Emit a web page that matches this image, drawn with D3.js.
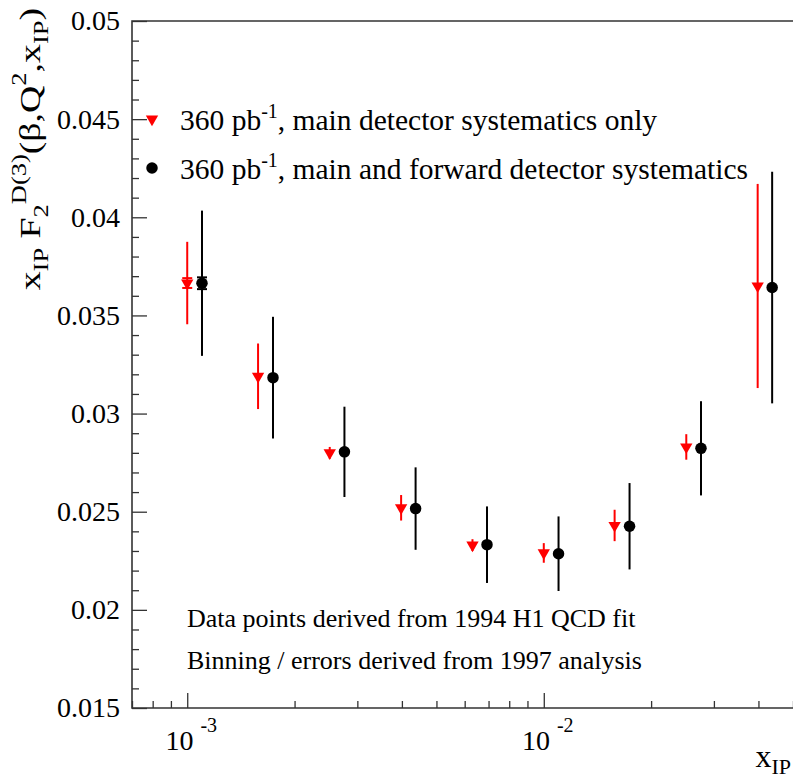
<!DOCTYPE html>
<html lang="en">
<head>
  <meta charset="utf-8">
  <title>xIP F2D(3)</title>
  <script src="https://cdn.jsdelivr.net/npm/d3@7"></script>
  <style>
    body {
      margin: 0;
      background: white;
    }
    text {
      font-family: "Liberation Serif", "Times New Roman", serif;
      fill: black;
    }
  </style>
</head>
<body>
  <svg id="svg" width="793" height="780"></svg>

  <script>
    // main detector systematics only (red down-triangles)
    var xRed = [0.001, 0.00158, 0.00251, 0.00398, 0.00631, 0.01, 0.0158, 0.0251, 0.0398];
    var yRed = [0.03665, 0.0319, 0.0280, 0.0252, 0.0233, 0.0229, 0.0243, 0.0283, 0.0365];
    var errRed = [0.0021, 0.00167, 0.0003, 0.00065, 0.0003, 0.0005, 0.0008, 0.00065, 0.0052];
    var statRed = [0.00025, 0, 0, 0, 0, 0, 0, 0, 0];

    // main and forward detector systematics (black circles)
    var xBlack = [0.0011, 0.00174, 0.00276, 0.00437, 0.00693, 0.011, 0.0174, 0.0276, 0.0437];
    var yBlack = [0.03664, 0.03183, 0.02805, 0.02516, 0.02332, 0.02286, 0.02426, 0.02823, 0.03642];
    var errBlack = [0.0037, 0.0031, 0.0023, 0.0021, 0.00195, 0.0019, 0.0022, 0.0024, 0.0059];
    var statBlack = [0.0003, 0, 0, 0, 0, 0, 0, 0, 0];

    var yMajor = [0.015, 0.02, 0.025, 0.03, 0.035, 0.04, 0.045, 0.05];
    var xMajor = [0.001, 0.01];
    var xMajorLabels = ["-3", "-2"];
    var legendLabels = [", main detector systematics only", ", main and forward detector systematics"];
    var notes = ["Data points derived from 1994 H1 QCD fit", "Binning / errors derived from 1997 analysis"];

    var svg = d3.select("#svg");
    // plot frame (note: "top" is reserved on window, so use frame_* names)
    var frame_l = 132, frame_r = 793, frame_t = 21, frame_b = 708;

    var x = d3.scaleLog().domain([7e-4, 0.05]).range([frame_l, frame_r]);
    var y = d3.scaleLinear().domain([0.015, 0.05]).range([frame_b, frame_t]);

    // minor ticks
    var yMinor = d3.range(15, 50).map(function(d){ return d / 1000; })
      .filter(function(d){ return Math.round(d * 1000) % 5 != 0; });
    var xMinor = x.ticks().filter(function(d){
      return xMajor.every(function(m){ return Math.abs(d - m) / m > 1e-6; });
    });

    var frameColor = "#333";

    // y axis
    var yAxis = svg.append("g")
      .attr("transform", "translate(" + frame_l + ",0)")
      .call(d3.axisLeft(y).tickValues(yMajor).tickSize(-15).tickPadding(12)
        .tickFormat(function(d){ return String(d); }));
    svg.append("g")
      .attr("transform", "translate(" + frame_l + ",0)")
      .call(d3.axisLeft(y).tickValues(yMinor).tickSize(-7).tickFormat(""));

    // x axis
    svg.append("g")
      .attr("transform", "translate(0," + frame_b + ")")
      .call(d3.axisBottom(x).tickValues(xMajor).tickSize(-15).tickFormat(""));
    svg.append("g")
      .attr("transform", "translate(0," + frame_b + ")")
      .call(d3.axisBottom(x).tickValues(xMinor).tickSize(-7).tickFormat(""));

    svg.selectAll(".domain").remove();
    svg.selectAll(".tick line").attr("stroke", frameColor).attr("stroke-width", 1.3);
    yAxis.selectAll(".tick text")
      .attr("font-family", "Liberation Serif")
      .attr("font-size", 28)
      .attr("fill", "black");

    // frame
    svg.append("path")
      .attr("d", "M" + (frame_r + 2) + "," + frame_t + "H" + frame_l + "V" + frame_b + "H" + (frame_r + 2))
      .attr("fill", "none")
      .attr("stroke", frameColor)
      .attr("stroke-width", 1.6);

    // x tick labels: 10^-3, 10^-2
    var xl = svg.selectAll(".xlab")
      .data(xMajor)
      .enter().append("text")
      .attr("class", "xlab")
      .attr("x", function(d){ return x(d) + 4; })
      .attr("y", 750)
      .attr("text-anchor", "middle")
      .attr("font-size", 28);
    xl.append("tspan").text("10 ");
    xl.append("tspan")
      .attr("dy", -18)
      .attr("font-size", 20)
      .text(function(d, i){ return xMajorLabels[i]; });

    // x title
    var xt = svg.append("text")
      .attr("x", 791)
      .attr("y", 767)
      .attr("text-anchor", "end")
      .attr("font-size", 32);
    xt.append("tspan").text("x");
    xt.append("tspan").attr("dy", 7).attr("font-size", 22).text("IP");

    // y title (stretched along its length like the original)
    var yt = svg.append("text")
      .attr("transform", "translate(40,8) rotate(-90) scale(1.26,1)")
      .attr("text-anchor", "end")
      .attr("font-size", 30);
    yt.append("tspan").text("x");
    yt.append("tspan").attr("dy", 8).attr("font-size", 21).text("IP");
    yt.append("tspan").attr("dy", -8).text(" F");
    yt.append("tspan").attr("dy", 8).attr("font-size", 21).text("2");
    yt.append("tspan").attr("dy", -22).attr("font-size", 21).text("D(3)");
    yt.append("tspan").attr("dy", 14).text("(\u03b2,Q");
    yt.append("tspan").attr("dy", -14).attr("font-size", 21).text("2");
    yt.append("tspan").attr("dy", 14).text(",x");
    yt.append("tspan").attr("dy", 8).attr("font-size", 21).text("IP");
    yt.append("tspan").attr("dy", -8).text(")");

    // series
    var triangle = d3.symbol().type(d3.symbolTriangle).size(66);
    var circle = d3.symbol().type(d3.symbolCircle).size(104);

    function drawSeries(xs, ys, errs, stats, color, sym, rot) {
      var g = svg.append("g");
      var idx = d3.range(xs.length);
      g.selectAll(".err")
        .data(idx)
        .enter().append("line")
        .attr("x1", function(i){ return x(xs[i]); })
        .attr("x2", function(i){ return x(xs[i]); })
        .attr("y1", function(i){ return y(ys[i] + errs[i]); })
        .attr("y2", function(i){ return y(ys[i] - errs[i]); })
        .attr("stroke", color)
        .attr("stroke-width", 2);
      var caps = [];
      idx.forEach(function(i){
        if (stats[i] > 0) {
          caps.push([i, ys[i] + stats[i]]);
          caps.push([i, ys[i] - stats[i]]);
        }
      });
      g.selectAll(".cap")
        .data(caps)
        .enter().append("line")
        .attr("x1", function(c){ return x(xs[c[0]]) - 5; })
        .attr("x2", function(c){ return x(xs[c[0]]) + 5; })
        .attr("y1", function(c){ return y(c[1]); })
        .attr("y2", function(c){ return y(c[1]); })
        .attr("stroke", color)
        .attr("stroke-width", 2);
      g.selectAll(".mk")
        .data(idx)
        .enter().append("path")
        .attr("d", sym)
        .attr("fill", color)
        .attr("transform", function(i){
          return "translate(" + x(xs[i]) + "," + y(ys[i]) + ") rotate(" + rot + ")";
        });
    }

    drawSeries(xRed, yRed, errRed, statRed, "#ff0000", triangle, 180);
    drawSeries(xBlack, yBlack, errBlack, statBlack, "black", circle, 0);

    // legend
    var legend = svg.selectAll(".leg")
      .data(legendLabels)
      .enter().append("g")
      .attr("class", "leg")
      .attr("transform", function(d, i){ return "translate(152," + (119 + i * 49) + ")"; });
    legend.append("path")
      .attr("d", function(d, i){ return i == 0 ? triangle() : circle(); })
      .attr("fill", function(d, i){ return i == 0 ? "#ff0000" : "black"; })
      .attr("transform", function(d, i){ return i == 0 ? "rotate(180)" : null; });
    var lt = legend.append("text")
      .attr("x", 28)
      .attr("y", 11)
      .attr("font-size", 29.5);
    lt.append("tspan").text("360 pb");
    lt.append("tspan").attr("dy", -12).attr("font-size", 20).text("-1");
    lt.append("tspan").attr("dy", 12).text(function(d){ return d; });

    // notes
    svg.selectAll(".note")
      .data(notes)
      .enter().append("text")
      .attr("class", "note")
      .attr("x", 187)
      .attr("y", function(d, i){ return 627 + i * 42; })
      .attr("font-size", 26)
      .text(function(d){ return d; });
  </script>
</body>
</html>
